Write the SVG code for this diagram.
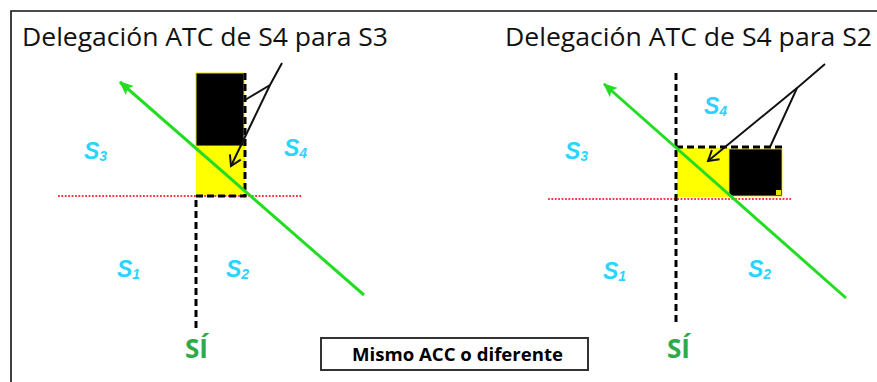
<svg xmlns="http://www.w3.org/2000/svg" width="877" height="382" viewBox="0 0 877 382">
  <defs>
    <style>
      .title { font-family: "Open Sans", "Noto Sans", sans-serif; font-size: 25px; fill: #111; }
      .s { font-family: "Liberation Sans", Arial, sans-serif; font-size: 23px; font-weight: bold; font-style: italic; fill: #2ad4ff; }
      .sub { font-size: 14px; }
      .si { font-family: "Open Sans", "Liberation Sans", sans-serif; font-size: 27px; font-weight: bold; fill: #2eaa48; }
      .green { stroke: #22dd22; stroke-width: 3; fill: none; }
      .dash { stroke: #000; stroke-width: 3; stroke-dasharray: 7 4; fill: none; }
      .dot { stroke: #ff3344; stroke-width: 1.8; stroke-dasharray: 1.8 1.6; fill: none; }
      .ptr { stroke: #111; stroke-width: 2; fill: none; }
      .box { fill: #fff; stroke: #333; stroke-width: 2; }
      .boxtext { font-family: "Open Sans", "Noto Sans", sans-serif; font-size: 18px; font-weight: bold; fill: #000; }
    </style>
    <marker id="ga" markerWidth="14" markerHeight="14" refX="13" refY="7" orient="auto" markerUnits="userSpaceOnUse" viewBox="0 0 14 14">
      <path d="M14,7 L0,1 L3,7 L0,13 Z" fill="#22dd22"/>
    </marker>
    <marker id="ba" markerWidth="16" markerHeight="16" refX="14" refY="8" orient="auto" markerUnits="userSpaceOnUse" viewBox="0 0 16 16">
      <path d="M4,2 L14,8 L4,14" fill="none" stroke="#111" stroke-width="2"/>
    </marker>
  </defs>

  <path d="M11,382 V11 H877" fill="none" stroke="#111" stroke-width="1.6"/>

  <text class="title" x="22" y="46" textLength="366" lengthAdjust="spacingAndGlyphs">Delegación ATC de S4 para S3</text>
  <text class="title" x="505" y="46" textLength="367" lengthAdjust="spacingAndGlyphs">Delegación ATC de S4 para S2</text>

  <!-- Left diagram -->
  <g id="left-sectors">
    <rect x="196" y="73" width="48" height="73" fill="#000" stroke="#e8e000" stroke-width="1"/>
    <rect x="196" y="146" width="49" height="50" fill="#ffff00"/>
  </g>
  <g id="left-lines">
    <line class="dot" x1="58" y1="196" x2="302" y2="196"/>
    <path class="dash" d="M245,73 V196 H196 V328"/>
  </g>
  <g id="left-labels">
    <text class="s" x="84" y="159">S<tspan class="sub" dy="2">3</tspan></text>
    <text class="s" x="284" y="156">S<tspan class="sub" dy="2">4</tspan></text>
    <text class="s" x="117" y="277">S<tspan class="sub" dy="2">1</tspan></text>
    <text class="s" x="226" y="277">S<tspan class="sub" dy="2">2</tspan></text>
    <text class="si" x="185" y="358" textLength="23" lengthAdjust="spacingAndGlyphs">SÍ</text>
  </g>

  <!-- Right diagram -->
  <g id="right-sectors">
    <rect x="677" y="148" width="52" height="49" fill="#ffff00"/>
    <rect x="729" y="149" width="53" height="47" fill="#000" stroke="#e8e000" stroke-width="0.8"/>
    <rect x="776" y="190" width="5" height="5" fill="#e8e000"/>
  </g>
  <g id="right-lines">
    <line class="dot" x1="548" y1="199" x2="791" y2="199"/>
    <line class="dash" x1="676" y1="73" x2="676" y2="326"/>
    <line class="dash" x1="676" y1="147" x2="782" y2="147"/>
  </g>
  <g id="right-labels">
    <text class="s" x="704" y="114">S<tspan class="sub" dy="2">4</tspan></text>
    <text class="s" x="565" y="159">S<tspan class="sub" dy="2">3</tspan></text>
    <text class="s" x="603" y="279">S<tspan class="sub" dy="2">1</tspan></text>
    <text class="s" x="748" y="277">S<tspan class="sub" dy="2">2</tspan></text>
    <text class="si" x="667" y="358" textLength="23" lengthAdjust="spacingAndGlyphs">SÍ</text>
  </g>

  <g id="connectors">
    <line class="green" x1="364" y1="295" x2="120" y2="82" marker-end="url(#ga)"/>
    <line class="green" x1="846" y1="298" x2="604" y2="84" marker-end="url(#ga)"/>
    <path class="ptr" d="M282,63 L270,85 L245,100"/>
    <path class="ptr" d="M270,85 L231,166" marker-end="url(#ba)"/>
    <path class="ptr" d="M825,64 L797,88 L770,147"/>
    <path class="ptr" d="M797,88 L708,161" marker-end="url(#ba)"/>
  </g>

  <g id="note">
    <rect class="box" x="321" y="338" width="267" height="32"/>
    <text class="boxtext" x="352" y="361" textLength="211" lengthAdjust="spacingAndGlyphs">Mismo ACC o diferente</text>
  </g>
</svg>
